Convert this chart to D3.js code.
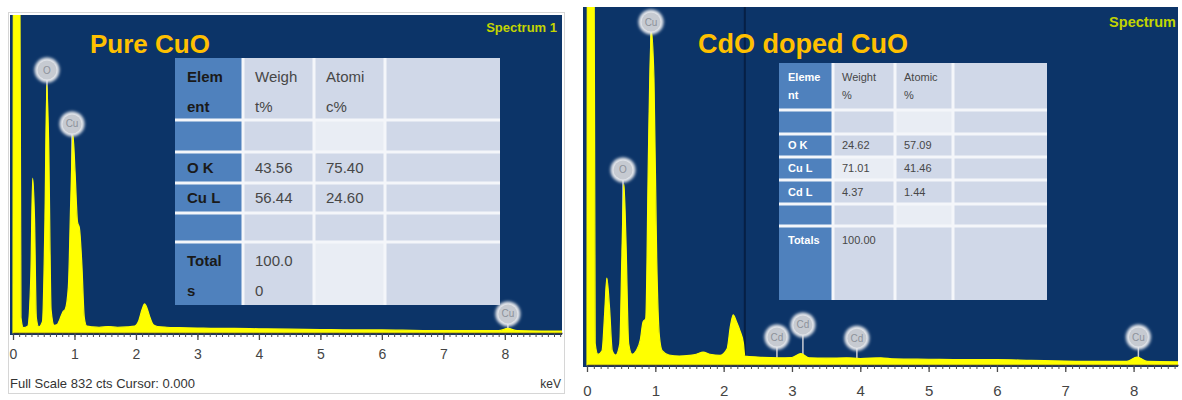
<!DOCTYPE html>
<html>
<head>
<meta charset="utf-8">
<script src="https://cdn.jsdelivr.net/npm/d3@7"></script>
<style>
  body { margin: 0; background: #fff; }
  svg { display: block; font-family: "Liberation Sans", Arial, sans-serif; }
</style>
</head>
<body>
<div id="vis"></div>
<script>
// Spectrum data (energy in keV, counts) --------------------------------------------------------------------------
const pureEnergy = [0, 0.01, 0.10, 0.13, 0.17, 0.24, 0.29, 0.32, 0.35, 0.38, 0.42, 0.48, 0.52, 0.55, 0.58, 0.62,
  0.67, 0.72, 0.76, 0.81, 0.85, 0.90, 0.94, 0.975, 1.01, 1.05, 1.08, 1.12, 1.16, 1.20, 1.30, 1.40, 1.55, 1.70, 1.85,
  1.98, 2.04, 2.10, 2.14, 2.18, 2.23, 2.28, 2.35, 2.5, 2.7, 3.0, 3.3, 3.6, 4.0, 4.5, 5.0, 5.5, 6.0, 6.5, 7.0, 7.5,
  7.9, 8.05, 8.2, 8.6, 8.93];
const pureCounts = [0, 1500, 1500, 40, 14, 18, 150, 405, 300, 40, 16, 30, 300, 649, 500, 60,
  20, 22, 35, 55, 62, 120, 350, 518, 420, 290, 275, 180, 40, 18, 16, 15, 17, 15, 16,
  18, 30, 62, 76, 65, 40, 22, 17, 15, 14, 13, 12, 12, 11, 10, 9, 8, 8, 7, 6, 6,
  6, 12, 6, 5, 5];

const dopedEnergy = [0, 0.01, 0.09, 0.12, 0.16, 0.22, 0.26, 0.29, 0.33, 0.37, 0.42, 0.48, 0.51, 0.54, 0.57, 0.61,
  0.66, 0.72, 0.78, 0.82, 0.86, 0.90, 0.94, 0.98, 1.02, 1.06, 1.10, 1.2, 1.35, 1.5, 1.6, 1.7, 1.8, 1.95, 2.05, 2.10,
  2.14, 2.19, 2.24, 2.29, 2.31, 2.5, 2.8, 3.0, 3.13, 3.25, 3.5, 3.8, 4.0, 4.3, 4.5, 5.0, 5.5, 6.0, 6.5, 7.0, 7.5,
  7.9, 8.05, 8.2, 8.65];
const dopedCounts = [0, 2000, 2000, 60, 30, 40, 150, 243, 160, 40, 28, 60, 300, 505, 350, 60,
  30, 40, 70, 120, 130, 600, 936, 800, 300, 80, 40, 28, 25, 27, 30, 36, 30, 27, 45, 110,
  140, 120, 95, 60, 25, 22, 20, 21, 32, 20, 19, 20, 18, 20, 17, 16, 15, 15, 13, 11, 10,
  10, 22, 10, 9];

const tickLabels = [0, 1, 2, 3, 4, 5, 6, 7, 8];

// Peak identification markers
const pureMarkNames = ["O", "Cu", "Cu"];
const pureMarkEnergy = [0.553, 0.96, 8.05];
const pureMarkCounts = [688, 547, 50];

const dopedMarkNames = ["Cu", "O", "Cd", "Cd", "Cd", "Cu"];
const dopedMarkEnergy = [0.937, 0.527, 2.78, 3.16, 3.95, 8.07];
const dopedMarkCounts = [958, 545, 78, 112, 75, 78];

// Quantification tables
const pureTable = [
  ["Elem\nent", "Weigh\nt%", "Atomi\nc%", ""],
  ["", "", "", ""],
  ["O K", "43.56", "75.40", ""],
  ["Cu L", "56.44", "24.60", ""],
  ["", "", "", ""],
  ["Total\ns", "100.0\n0", "", ""]
];
const dopedTable = [
  ["Eleme\nnt", "Weight\n%", "Atomic\n%", ""],
  ["", "", "", ""],
  ["O K", "24.62", "57.09", ""],
  ["Cu L", "71.01", "41.46", ""],
  ["Cd L", "4.37", "1.44", ""],
  ["", "", "", ""],
  ["Totals", "100.00", "", ""]
];

// Canvas -----------------------------------------------------------------------------------------------------------
const canvasWidth = 1182;
const canvasHeight = 400;
const navy = "#0c3468";
const yellow = "#ffff00";

const svg = d3.select("#vis")
  .append("svg")
  .attr("width", canvasWidth)
  .attr("height", canvasHeight);

const defs = svg.append("defs");
defs.append("filter")
  .attr("id", "glow")
  .attr("x", "-50%").attr("y", "-50%").attr("width", "200%").attr("height", "200%")
  .append("feGaussianBlur")
  .attr("stdDeviation", 1.4);

// outer frame of the left screenshot
svg.append("rect")
  .attr("x", 8.5).attr("y", 12.5)
  .attr("width", 556).attr("height", 381)
  .attr("fill", "none")
  .attr("stroke", "#d6d6d6");

var drawPanel = function(p) {
  const xScale = d3.scaleLinear().domain([0, p.xMax]).range([p.xStart, p.x1]);
  const yScale = d3.scaleLinear().domain([0, p.yMax]).range([p.axisY, p.top]);

  const clipId = "clip-" + p.id;
  defs.append("clipPath").attr("id", clipId)
    .append("rect")
    .attr("x", p.x0).attr("y", p.top)
    .attr("width", p.x1 - p.x0).attr("height", p.axisY - p.top + 2);

  const g = svg.append("g");
  g.append("rect")
    .attr("x", p.x0).attr("y", p.top)
    .attr("width", p.x1 - p.x0).attr("height", p.axisY - p.top + 2)
    .attr("fill", navy);

  const plot = g.append("g").attr("clip-path", "url(#" + clipId + ")");

  // cursor line
  if (p.cursor != null) {
    plot.append("line")
      .attr("x1", xScale(p.cursor)).attr("x2", xScale(p.cursor))
      .attr("y1", p.top).attr("y2", p.axisY)
      .attr("stroke", "#061f45")
      .attr("stroke-width", 2);
  }

  // marker stems go behind the spectrum
  const marks = p.markNames.map((n, i) => ({ name: n, e: p.markEnergy[i], c: p.markCounts[i] }));
  plot.selectAll(".stem")
    .data(marks)
    .join("line")
    .attr("class", "stem")
    .attr("x1", d => xScale(d.e)).attr("x2", d => xScale(d.e))
    .attr("y1", d => yScale(d.c)).attr("y2", p.axisY)
    .attr("stroke", "#c9ccd3")
    .attr("stroke-width", 1.5);

  const pts = p.energy.map((e, i) => [e, p.counts[i]]);
  const area = d3.area()
    .x(d => xScale(d[0]))
    .y0(p.axisY)
    .y1(d => yScale(d[1]))
    .curve(d3.curveMonotoneX);
  plot.append("path")
    .datum(pts)
    .attr("d", area)
    .attr("fill", yellow)
    .attr("stroke", yellow)
    .attr("stroke-width", 1.2);

  // marker circles
  const mk = plot.selectAll(".mark")
    .data(marks)
    .join("g")
    .attr("class", "mark")
    .attr("transform", d => "translate(" + xScale(d.e) + "," + yScale(d.c) + ")");
  mk.append("circle").attr("r", 12.5).attr("fill", "#e6e8ec").attr("filter", "url(#glow)");
  mk.append("circle").attr("r", 9.5).attr("fill", "#c6cad1");
  mk.append("text")
    .text(d => d.name)
    .attr("text-anchor", "middle")
    .attr("dy", "0.35em")
    .style("font-size", "10px")
    .attr("fill", "#8d929b");

  // Spectrum title (the right screenshot is cropped after "Spectrum")
  plot.append("text")
    .text(p.specText)
    .attr("x", p.specX).attr("y", p.specY)
    .attr("text-anchor", p.specAnchor)
    .style("font-size", p.specSize + "px")
    .style("font-weight", "bold")
    .attr("fill", "#c3d400");

  // Axes
  const minor = d3.range(0, p.xMax, 0.1);
  g.append("g")
    .attr("transform", "translate(0," + p.axisY + ")")
    .call(d3.axisBottom(xScale).tickValues(minor).tickSize(4).tickSizeOuter(0).tickFormat(""))
    .call(a => a.selectAll("line").attr("stroke", "#4a4a4a"))
    .call(a => a.select(".domain").attr("stroke", "#3a3a3a").attr("stroke-width", 1.5));
  g.append("g")
    .attr("transform", "translate(0," + p.axisY + ")")
    .call(d3.axisBottom(xScale).tickValues(tickLabels).tickSize(7).tickSizeOuter(0).tickPadding(p.tickPad))
    .call(a => a.select(".domain").remove())
    .call(a => a.selectAll("line").attr("stroke", "#4a4a4a").attr("stroke-width", 1.3))
    .call(a => a.selectAll("text")
      .style("font-size", p.tickFont + "px")
      .style("font-family", "'Liberation Sans', Arial, sans-serif")
      .attr("fill", "#444"));

  // Title
  g.append("text")
    .text(p.title)
    .attr("x", p.titleX).attr("y", 53)
    .style("font-size", p.titleSize + "px")
    .style("font-weight", "bold")
    .attr("fill", "#ffc000");

  // Table
  const t = p.table;
  const tg = g.append("g");
  tg.append("rect")
    .attr("x", t.cols[0]).attr("y", t.rows[0])
    .attr("width", t.cols[t.cols.length - 1] - t.cols[0])
    .attr("height", t.rows[t.rows.length - 1] - t.rows[0])
    .attr("fill", "#f4f6fa");
  const cells = [];
  t.data.forEach((row, r) => row.forEach((txt, c) => cells.push({ r: r, c: c, txt: txt })));
  tg.selectAll(".cell")
    .data(cells)
    .join("rect")
    .attr("class", "cell")
    .attr("x", d => t.cols[d.c] + (d.c == 0 ? 0 : 1.5))
    .attr("y", d => t.rows[d.r] + (d.r == 0 ? 0 : 1.5))
    .attr("width", d => t.cols[d.c + 1] - t.cols[d.c] - (d.c == 0 ? 1.5 : 3) + (d.c == 3 ? 1.5 : 0))
    .attr("height", d => t.rows[d.r + 1] - t.rows[d.r] - (d.r == 0 ? 1.5 : 3) + (d.r == t.data.length - 1 ? 1.5 : 0))
    .attr("fill", d => d.c == 0 ? "#4f81bd" : (t.light.includes(d.r + "," + d.c) ? "#e9edf4" : "#d0d8e8"));
  cells.filter(d => d.txt != "").forEach(function(d) {
    const lines = d.txt.split("\n");
    const top = t.rows[d.r];
    const h = t.rows[d.r + 1] - top;
    lines.forEach(function(line, i) {
      let y;
      if (lines.length > 1 || d.r == t.data.length - 1) y = top + t.lineOff[i];
      else y = top + h / 2;
      tg.append("text")
        .text(line)
        .attr("x", t.cols[d.c] + t.padX)
        .attr("y", y)
        .attr("dy", "0.35em")
        .style("font-size", t.font + "px")
        .style("font-weight", d.c == 0 ? "bold" : "normal")
        .attr("fill", d.c == 0 ? t.firstColor : "#474747");
    });
  });
};

drawPanel({
  id: "pure", x0: 10, x1: 562, top: 15, axisY: 333, xStart: 13, xMax: 8.93, yMax: 832,
  energy: pureEnergy, counts: pureCounts,
  markNames: pureMarkNames, markEnergy: pureMarkEnergy, markCounts: pureMarkCounts,
  cursor: null, specText: "Spectrum 1", specX: 557, specY: 32, specAnchor: "end", specSize: 13,
  tickPad: 9, tickFont: 14,
  title: "Pure CuO", titleX: 90, titleSize: 26,
  table: {
    data: pureTable,
    cols: [175, 243, 314, 385, 500],
    rows: [58, 120, 152, 183, 213, 242, 305],
    light: ["1,2", "5,2"],
    lineOff: [19, 49],
    padX: 12, font: 15, firstColor: "#1a1a1a"
  }
});

drawPanel({
  id: "doped", x0: 583, x1: 1178, top: 7, axisY: 365, xStart: 587, xMax: 8.65, yMax: 1000,
  energy: dopedEnergy, counts: dopedCounts,
  markNames: dopedMarkNames, markEnergy: dopedMarkEnergy, markCounts: dopedMarkCounts,
  cursor: 2.31, specText: "Spectrum", specX: 1176, specY: 27, specAnchor: "end", specSize: 14.5,
  tickPad: 13, tickFont: 15,
  title: "CdO doped CuO", titleX: 698, titleSize: 27,
  table: {
    data: dopedTable,
    cols: [779, 833, 895, 953, 1047],
    rows: [63, 110, 134, 157, 180, 204, 226, 300],
    light: ["1,2", "3,1", "5,2"],
    lineOff: [14, 32],
    padX: 9, font: 11, firstColor: "#ffffff"
  }
});

// Footer of the left screenshot
svg.append("text")
  .text("Full Scale 832 cts Cursor: 0.000")
  .attr("x", 10).attr("y", 388)
  .style("font-size", "13px")
  .attr("fill", "#333");
svg.append("text")
  .text("keV")
  .attr("x", 561).attr("y", 388)
  .attr("text-anchor", "end")
  .style("font-size", "12px")
  .attr("fill", "#333");
</script>
</body>
</html>
